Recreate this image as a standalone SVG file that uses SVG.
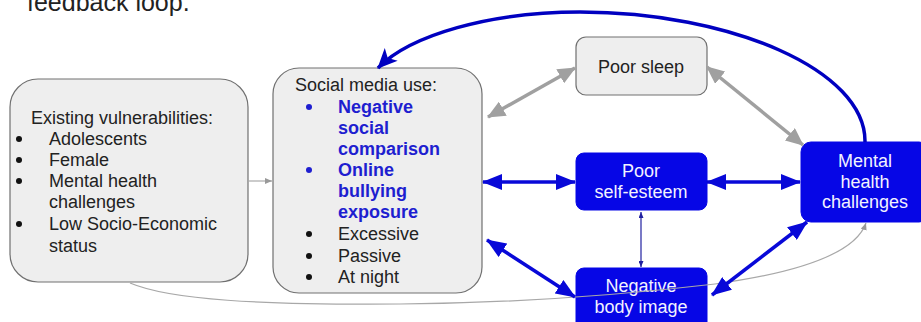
<svg xmlns="http://www.w3.org/2000/svg" width="921" height="322" viewBox="0 0 921 322">
<defs>
<style>
text{font-family:"Liberation Sans",Arial,sans-serif;font-size:18px;fill:#222}
.gbox{fill:#eeeeee;stroke:#707070;stroke-width:1.2}
.bbox{fill:#0606e6;stroke:#0606e6}
.wt{fill:#f2f2ff;text-anchor:middle}
.ct{text-anchor:middle}
.bl{fill:#1e1ed0;font-weight:bold}
.gar{stroke:#a0a0a0;stroke-width:3.5;fill:none}
.bar{stroke:#0808d8;stroke-width:3.5;fill:none}
.thin{stroke:#a8a8a8;stroke-width:1.2;fill:none}
</style>
<marker id="gh" viewBox="0 0 18 16" refX="17" refY="8" markerWidth="18" markerHeight="16" markerUnits="userSpaceOnUse" orient="auto-start-reverse"><path d="M0,0 L18,8 L0,16 z" fill="#a0a0a0"/></marker>
<marker id="bh" viewBox="0 0 20 16" refX="19" refY="8" markerWidth="20" markerHeight="16" markerUnits="userSpaceOnUse" orient="auto-start-reverse"><path d="M0,0 L20,8 L0,16 z" fill="#0808d8"/></marker>
<marker id="bs" viewBox="0 0 6 5" refX="6" refY="2.5" markerWidth="6" markerHeight="5" markerUnits="userSpaceOnUse" orient="auto-start-reverse"><path d="M0,0 L6,2.5 L0,5 z" fill="#2020a0"/></marker>
<marker id="ts" viewBox="0 0 7 6" refX="7" refY="3" markerWidth="7" markerHeight="6" markerUnits="userSpaceOnUse" orient="auto"><path d="M0,0 L7,3 L0,6 z" fill="#999"/></marker>
<marker id="ch" viewBox="0 0 20 18" refX="19" refY="9" markerWidth="20" markerHeight="18" markerUnits="userSpaceOnUse" orient="auto"><path d="M0,0 L20,9 L0,18 L5,9 z" fill="#0000c0"/></marker>
</defs>

<text x="27" y="11" style="font-size:25px">feedback loop.</text>

<g id="vulnerabilities">
<rect class="gbox" x="10" y="79" width="238" height="203" rx="28"/>
<text x="31" y="124">Existing vulnerabilities:</text>
<circle cx="19" cy="139" r="3" fill="#111"/><text x="49" y="145">Adolescents</text>
<circle cx="19" cy="160" r="3" fill="#111"/><text x="49" y="166">Female</text>
<circle cx="19" cy="181" r="3" fill="#111"/><text x="49" y="187">Mental health</text>
<text x="49" y="208">challenges</text>
<circle cx="19" cy="224" r="3" fill="#111"/><text x="49" y="230">Low Socio-Economic</text>
<text x="49" y="252">status</text>
</g>

<g id="social-media">
<rect class="gbox" x="273" y="68" width="209" height="225" rx="26"/>
<text x="295" y="91">Social media use:</text>
<circle cx="309" cy="107" r="3" fill="#1e1ed0"/><text class="bl" x="338" y="113">Negative</text>
<text class="bl" x="338" y="134">social</text>
<text class="bl" x="338" y="155">comparison</text>
<circle cx="309" cy="170" r="3" fill="#1e1ed0"/><text class="bl" x="338" y="176">Online</text>
<text class="bl" x="338" y="197">bullying</text>
<text class="bl" x="338" y="218">exposure</text>
<circle cx="309" cy="234" r="3" fill="#111"/><text x="338" y="240">Excessive</text>
<circle cx="309" cy="256" r="3" fill="#111"/><text x="338" y="262">Passive</text>
<circle cx="309" cy="277" r="3" fill="#111"/><text x="338" y="283">At night</text>
</g>

<g id="poor-sleep">
<rect class="gbox" x="576" y="37" width="131" height="58" rx="10"/>
<text class="ct" x="641" y="73">Poor sleep</text>
</g>

<g id="self-esteem">
<rect class="bbox" x="576" y="153" width="131" height="57" rx="8"/>
<text class="wt" x="641" y="177">Poor</text>
<text class="wt" x="641" y="198">self-esteem</text>
</g>

<g id="mental-health">
<rect class="bbox" x="801" y="142" width="128" height="80" rx="10"/>
<text class="wt" x="865" y="167">Mental</text>
<text class="wt" x="865" y="188">health</text>
<text class="wt" x="865" y="208">challenges</text>
</g>

<g id="body-image">
<rect class="bbox" x="576" y="268" width="131" height="64" rx="8"/>
<text class="wt" x="641" y="292">Negative</text>
<text class="wt" x="641" y="313">body image</text>
</g>

<g id="connectors">
<path class="thin" d="M248,181 L272,181" marker-end="url(#ts)"/>
<path class="thin" d="M130,283 C170,300 260,305 400,304 C520,303 630,294 715,284 C795,273 855,255 866,223" marker-end="url(#ts)"/>
<path class="gar" d="M488,117 L575,68" marker-start="url(#gh)" marker-end="url(#gh)"/>
<path class="gar" d="M707,67 L803,145" marker-start="url(#gh)" marker-end="url(#gh)"/>
<path class="bar" d="M483,182 L575,182" marker-start="url(#bh)" marker-end="url(#bh)"/>
<path class="bar" d="M707,182 L800,182" marker-start="url(#bh)" marker-end="url(#bh)"/>
<path class="bar" d="M487,240 L575,297" marker-start="url(#bh)" marker-end="url(#bh)"/>
<path class="bar" d="M712,295 L807,222" marker-start="url(#bh)" marker-end="url(#bh)"/>
<path d="M641,212 L641,267" stroke="#2020a0" stroke-width="1.2" fill="none" marker-start="url(#bs)" marker-end="url(#bs)"/>
<path d="M865,142 C866,70 730,12 580,12 C490,12 410,35 378,68" stroke="#0000c0" stroke-width="3.5" fill="none" marker-end="url(#ch)"/>
</g>
</svg>
